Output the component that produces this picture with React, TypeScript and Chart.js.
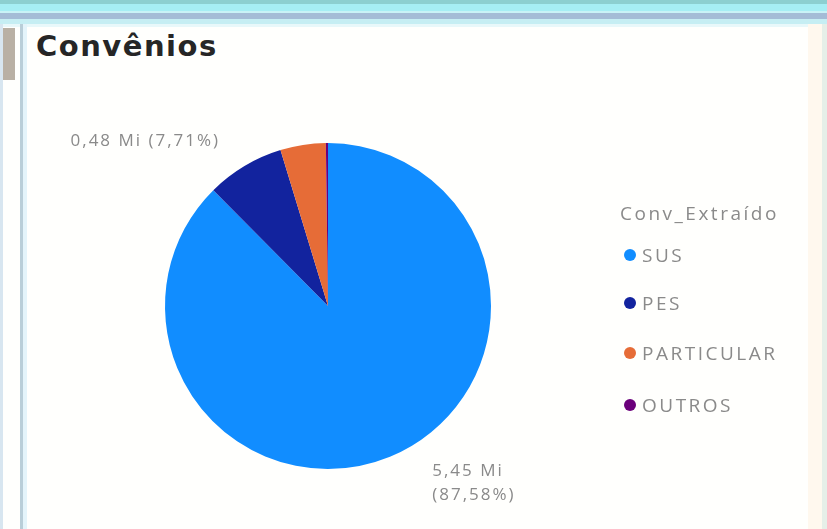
import React, { useEffect, useRef } from "react";
import { Chart, registerables } from "chart.js";

Chart.register(...registerables);

const title = "Convênios";
const legendTitle = "Conv_Extraído";
const categories = ["SUS", "PES", "PARTICULAR", "OUTROS"];
const valuesMi = [5.452, 0.48, 0.28, 0.013];
const colors = ["#118DFF", "#12239E", "#E66C37", "#6B007B"];
const showLabel = [true, true, false, false];

const fmt = (v: number) => v.toFixed(2).replace(".", ",");

const labelPlugin = {
  id: "pbiLabels",
  afterDatasetsDraw(chart: any) {
    const ctx = chart.ctx;
    const meta = chart.getDatasetMeta(0);
    const data = chart.data.datasets[0].data as number[];
    const total = data.reduce((a, b) => a + b, 0);
    ctx.save();
    ctx.font = '17px "Open Sans", sans-serif';
    (ctx as any).letterSpacing = "2px";
    ctx.fillStyle = "#8a8a8a";
    ctx.textBaseline = "middle";
    meta.data.forEach((arc: any, i: number) => {
      if (!showLabel[i]) return;
      const p = arc.getProps(["x", "y", "startAngle", "endAngle", "outerRadius"], true);
      const mid = (p.startAngle + p.endAngle) / 2;
      const R = p.outerRadius * 1.1;
      const px = p.x + Math.cos(mid) * R;
      const py = p.y + Math.sin(mid) * R;
      const valTxt = fmt(data[i]) + " Mi";
      const pctTxt = "(" + fmt((data[i] / total) * 100) + "%)";
      if (px < p.x) {
        ctx.textAlign = "right";
        ctx.fillText(valTxt + " " + pctTxt, px - 16, py - 11);
      } else {
        ctx.textAlign = "left";
        ctx.fillText(valTxt, px + 36, py - 1);
        ctx.fillText(pctTxt, px + 36, py + 23);
      }
    });
    ctx.restore();
  },
};

export default function App() {
  const ref = useRef<HTMLCanvasElement | null>(null);
  useEffect(() => {
    if (!ref.current) return;
    const chart = new Chart(ref.current, {
      type: "pie",
      data: {
        labels: categories,
        datasets: [
          {
            data: valuesMi,
            backgroundColor: colors,
            borderWidth: 0,
          },
        ],
      },
      options: {
        animation: false,
        responsive: false,
        maintainAspectRatio: false,
        layout: { padding: { left: 165, right: 336, top: 143, bottom: 60 } },
        plugins: {
          legend: { display: false },
          tooltip: { enabled: false },
        },
      },
      plugins: [labelPlugin],
    });
    return () => chart.destroy();
  }, []);

  const legendY = [255, 303, 353, 405];

  return (
    <div
      style={{
        position: "fixed",
        left: 0,
        top: 0,
        width: 827,
        height: 529,
        background: "#fffffd",
        overflow: "hidden",
        fontFamily: '"Open Sans", sans-serif',
      }}
    >
      {/* top band */}
      <div style={{ position: "absolute", left: 0, top: 0, width: 827, height: 4, background: "#8ccfd0" }} />
      <div style={{ position: "absolute", left: 0, top: 4, width: 827, height: 7, background: "#a6eef4" }} />
      <div style={{ position: "absolute", left: 0, top: 11, width: 827, height: 2, background: "#c9f2f6" }} />
      <div style={{ position: "absolute", left: 0, top: 13, width: 827, height: 6, background: "#a4bcd6" }} />
      <div style={{ position: "absolute", left: 0, top: 19, width: 827, height: 5, background: "#c6eef3" }} />
      <div style={{ position: "absolute", left: 0, top: 24, width: 827, height: 3, background: "#e8f8fa" }} />
      {/* left strips */}
      <div style={{ position: "absolute", left: 0, top: 24, width: 3, height: 505, background: "#d8e6f0" }} />
      <div style={{ position: "absolute", left: 3, top: 28, width: 12, height: 52, background: "#b9b0a4" }} />
      <div style={{ position: "absolute", left: 20, top: 24, width: 3, height: 505, background: "#b9ced8" }} />
      <div style={{ position: "absolute", left: 23, top: 24, width: 4, height: 505, background: "#e4f4fa" }} />
      {/* right strips */}
      <div style={{ position: "absolute", left: 808, top: 24, width: 14, height: 505, background: "#fff8ee" }} />
      <div style={{ position: "absolute", left: 822, top: 24, width: 5, height: 505, background: "#e6efe8" }} />

      <div
        style={{
          position: "absolute",
          left: 36,
          top: 29,
          fontFamily: '"DejaVu Sans", sans-serif',
          fontWeight: 700,
          fontSize: 29,
          color: "#262626",
          letterSpacing: 1.5,
        }}
      >
        {title}
      </div>

      <canvas ref={ref} width={827} height={529} style={{ position: "absolute", left: 0, top: 0 }} />

      <div
        style={{
          position: "absolute",
          left: 620,
          top: 213,
          transform: "translateY(-50%)",
          fontSize: 19,
          color: "#8a8a8a",
          letterSpacing: 2.5,
          whiteSpace: "nowrap",
        }}
      >
        {legendTitle}
      </div>
      {categories.map((c, i) => (
        <div
          key={c}
          style={{
            position: "absolute",
            left: 624,
            top: legendY[i],
            transform: "translateY(-50%)",
            display: "flex",
            alignItems: "center",
            whiteSpace: "nowrap",
          }}
        >
          <span
            style={{
              display: "inline-block",
              width: 12,
              height: 12,
              borderRadius: 6,
              background: colors[i],
              marginRight: 6,
            }}
          />
          <span style={{ fontSize: 19, color: "#8a8a8a", letterSpacing: 2.5 }}>{c}</span>
        </div>
      ))}
    </div>
  );
}
